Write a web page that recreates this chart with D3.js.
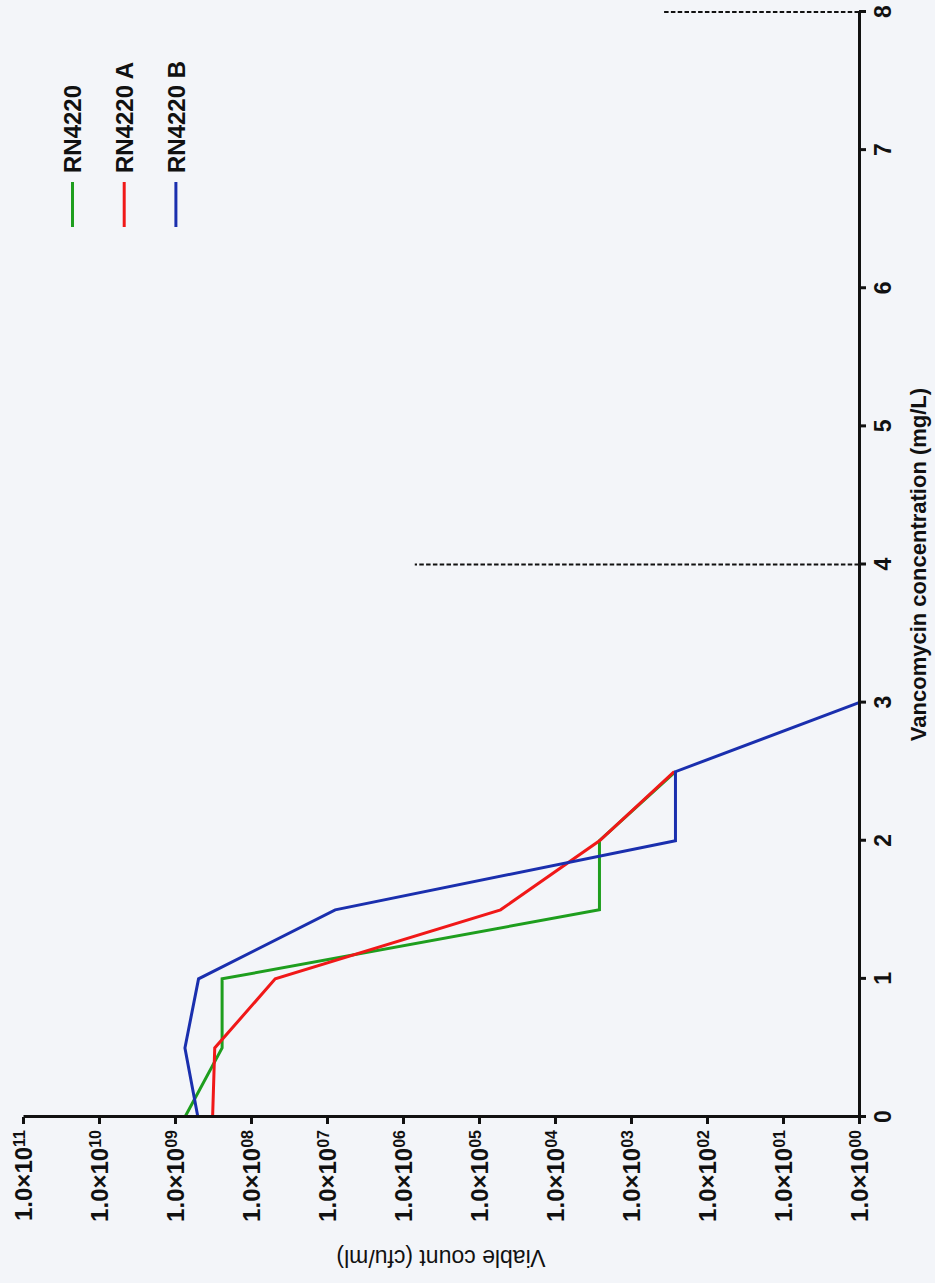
<!DOCTYPE html>
<html>
<head>
<meta charset="utf-8">
<script src="https://cdn.jsdelivr.net/npm/d3@7"></script>
<style>
  body { margin: 0; background: #f3f5f9; }
  text { font-family: "Liberation Sans", Arial, sans-serif; fill: #111; }
</style>
</head>
<body>
<div id="chart"></div>
<script>
// data
var concentrations = [0, 0.5, 1, 1.5, 2, 2.5, 3];
var rn4220  = [7.4e8, 2.4e8, 2.4e8, 2.6e3, 2.6e3, 2.6e2];
var rn4220A = [3.2e8, 3.0e8, 4.8e7, 5.2e4, 2.6e3, 2.7e2];
var rn4220B = [5.0e8, 7.4e8, 4.9e8, 7.8e6, 2.6e2, 2.6e2, 1];
var seriesNames = ["RN4220", "RN4220 A", "RN4220 B"];
var seriesColors = ["#1e9e1e", "#f01818", "#1a2fae"];
var xTicks = [0, 1, 2, 3, 4, 5, 6, 7, 8];
var yTickExps = [0, 1, 2, 3, 4, 5, 6, 7, 8, 9, 10, 11];
// dashed marker lines: concentration and how far they reach
var refConc = [4, 8];
var refTop = [7e5, 3.8e2];

var series = [rn4220, rn4220A, rn4220B];

// chart is drawn upright, then turned a quarter turn anticlockwise
var width = 1105,   // length of the concentration axis
    height = 836;   // length of the count axis

var svg = d3.select("#chart")
  .append("svg")
    .attr("width", 935)
    .attr("height", 1283);

svg.append("rect")
  .attr("width", 935)
  .attr("height", 1283)
  .attr("fill", "#f3f5f9");

var g = svg.append("g")
  .attr("transform", "translate(23,1117) rotate(-90)");

var x = d3.scaleLinear().domain([0, 8]).range([0, width]);
var y = d3.scaleLog().domain([1, 1e11]).range([height, 0]);

// dashed reference lines
g.selectAll("line.ref")
  .data(refConc)
  .enter()
  .append("line")
    .attr("class", "ref")
    .attr("x1", function(d) { return x(d); })
    .attr("x2", function(d) { return x(d); })
    .attr("y1", y(1))
    .attr("y2", function(d, i) { return y(refTop[i]); })
    .attr("stroke", "#111")
    .attr("stroke-width", 2)
    .attr("stroke-dasharray", "4.5,2.3");

// series lines
var line = d3.line()
  .x(function(d, i) { return x(concentrations[i]); })
  .y(function(d) { return y(d); });

g.selectAll("path.series")
  .data(series)
  .enter()
  .append("path")
    .attr("class", "series")
    .attr("d", line)
    .attr("fill", "none")
    .attr("stroke", function(d, i) { return seriesColors[i]; })
    .attr("stroke-width", 3)
    .attr("stroke-linejoin", "miter");

// x axis (concentration)
var xAxis = g.append("g")
  .attr("transform", "translate(0," + height + ")")
  .call(d3.axisBottom(x).tickValues(xTicks).tickFormat(d3.format("d")).tickSize(7).tickPadding(9).tickSizeOuter(0));
xAxis.selectAll("text")
  .style("font-size", "23px")
  .style("font-weight", "bold");

// y axis (viable count)
var yAxis = g.append("g")
  .call(d3.axisLeft(y).tickValues(yTickExps.map(function(e) { return Math.pow(10, e); })).tickFormat("").tickSize(7).tickSizeOuter(0));

var labels = yAxis.selectAll(".tick")
  .append("text")
    .attr("x", -13)
    .attr("dy", "0.35em")
    .attr("text-anchor", "end")
    .style("font-size", "24px")
    .style("font-weight", "bold");
labels.append("tspan").text("1.0\u00d710");
labels.append("tspan")
  .attr("dy", "-0.45em")
  .style("font-size", "16px")
  .text(function(d) { return d3.format("02d")(Math.round(Math.log10(d))); });

g.selectAll(".domain, .tick line")
  .attr("stroke", "#111")
  .attr("stroke-width", 3);

// axis titles
g.append("text")
  .attr("x", width / 2)
  .attr("y", 903)
  .attr("text-anchor", "middle")
  .style("font-size", "22px")
  .style("font-weight", "bold")
  .text("Vancomycin concentration (mg/L)");

g.append("text")
  .attr("transform", "translate(-133," + (height / 2) + ") rotate(-90)")
  .attr("text-anchor", "middle")
  .style("font-size", "23px")
  .text("Viable count (cfu/ml)");

// legend
var legend = g.selectAll("g.legend")
  .data(seriesNames)
  .enter()
  .append("g")
    .attr("class", "legend")
    .attr("transform", function(d, i) { return "translate(890," + (49.5 + i * 51.7) + ")"; });

legend.append("line")
  .attr("x1", 0)
  .attr("x2", 45)
  .attr("stroke", function(d, i) { return seriesColors[i]; })
  .attr("stroke-width", 3);

legend.append("text")
  .attr("x", 54)
  .attr("dy", "0.36em")
  .style("font-size", "24px")
  .style("font-weight", "bold")
  .text(function(d) { return d; });
</script>
</body>
</html>
